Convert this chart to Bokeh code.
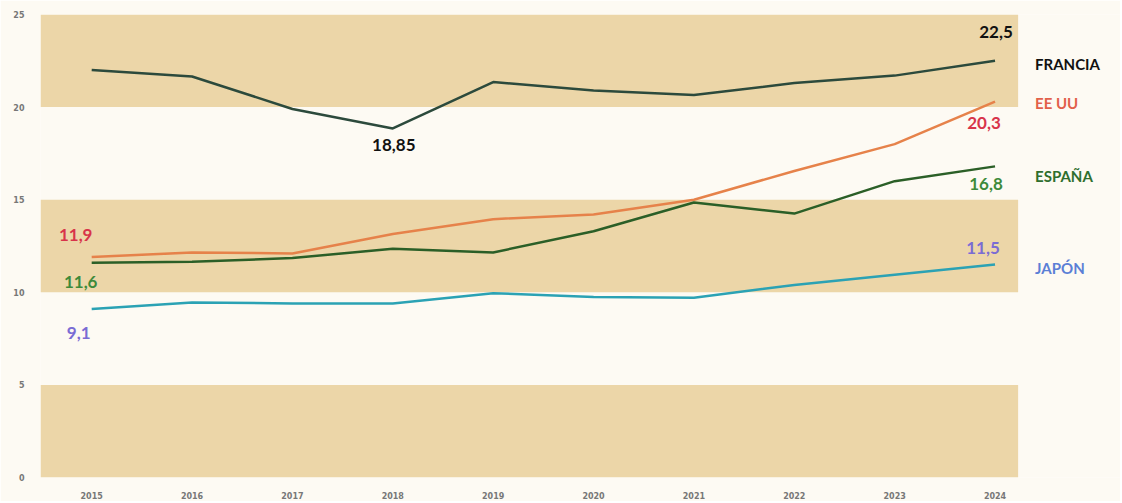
from bokeh.plotting import figure
from bokeh.models import FixedTicker, Range1d
from bokeh.core.properties import value
from bokeh.embed import file_html
from bokeh.resources import INLINE

years = [2015, 2016, 2017, 2018, 2019, 2020, 2021, 2022, 2023, 2024]
francia = [22.0, 21.65, 19.9, 18.85, 21.35, 20.9, 20.65, 21.3, 21.7, 22.5]
eeuu = [11.9, 12.15, 12.1, 13.15, 13.95, 14.2, 15.0, 16.55, 18.0, 20.3]
espana = [11.6, 11.65, 11.85, 12.35, 12.15, 13.3, 14.85, 14.25, 16.0, 16.8]
japon = [9.1, 9.45, 9.4, 9.4, 9.95, 9.75, 9.7, 10.4, 10.95, 11.5]
y_ticks = [0, 5, 10, 15, 20, 25]
band_lows = [0, 10, 20]
band_highs = [5, 15, 25]
series_names = ["FRANCIA", "EE UU", "ESPAÑA", "JAPÓN"]

BG = "#fdfaf3"
BAND = "#ecd6a8"

p = figure(width=1120, height=501, output_backend="svg", toolbar_location=None,
           x_range=Range1d(2014.49, 2025.25), y_range=Range1d(0, 25),
           min_border_left=40, min_border_right=0, min_border_top=14, min_border_bottom=24,
           background_fill_color=BG, border_fill_color=BG)
p.outline_line_color = None
p.grid.visible = False

# bands
x0 = min(years) - 0.51
x1 = max(years) + 0.23
p.quad(left=[x0] * 3, right=[x1] * 3, bottom=band_lows, top=band_highs,
       fill_color=BAND, line_color=None)

font = value("Lato")
series = [
    (francia, "#2c4a3c", "#111111", "#111111"),
    (eeuu, "#e6824a", "#d8344a", "#e2604a"),
    (espana, "#2b5f27", "#3d8a3a", "#2f6e2e"),
    (japon, "#2ba2b4", "#7a6cd4", "#5b7fd6"),
]
for vals, lc, _, _ in series:
    p.line(years, vals, line_color=lc, line_width=2.5)

# value labels
def lab(x, y, txt, color, xo, yo, align="center"):
    p.text(x=[x], y=[y], text=[txt], text_color=color, text_font=font,
           text_font_style="bold", text_font_size="17px", text_align=align,
           text_baseline="middle", x_offset=xo, y_offset=yo)

fmt = lambda v: ("%g" % v).replace(".", ",")
lab(years[-1], francia[-1], fmt(francia[-1]), series[0][2], 1, -29)
lab(years[3], francia[3], fmt(francia[3]), series[0][2], 1, 17)
lab(years[-1], eeuu[-1], fmt(eeuu[-1]), series[1][2], -11, 21)
lab(years[-1], espana[-1], fmt(espana[-1]), series[2][2], -9, 18)
lab(years[-1], japon[-1], fmt(japon[-1]), series[3][2], -12, -17)
lab(years[0], eeuu[0], fmt(eeuu[0]), series[1][2], -16, -22)
lab(years[0], espana[0], fmt(espana[0]), series[2][2], -11, 19)
lab(years[0], japon[0], fmt(japon[0]), series[3][2], -13, 24)

# series names at the right
name_offsets = [3, 1, 10, 3]
for (vals, _, _, nc), name, yo in zip(series, series_names, name_offsets):
    p.text(x=[years[-1]], y=[vals[-1]], text=[name], text_color=nc, text_font=font,
           text_font_style="bold", text_font_size="15px", text_align="left",
           text_baseline="middle", x_offset=40, y_offset=yo)

p.xaxis.ticker = FixedTicker(ticks=years)
p.yaxis.ticker = FixedTicker(ticks=y_ticks)
for ax in (p.xaxis, p.yaxis):
    ax.axis_line_color = None
    ax.major_tick_line_color = None
    ax.minor_tick_line_color = None
    ax.major_label_text_color = "#777777"
    ax.major_label_text_font_size = "8px"
    ax.major_label_text_font_style = "bold"
    ax.major_label_text_font = "DejaVu Sans"
p.xaxis.major_label_standoff = 8
p.yaxis.major_label_standoff = 10

open("out.html", "w").write(file_html(p, INLINE))
